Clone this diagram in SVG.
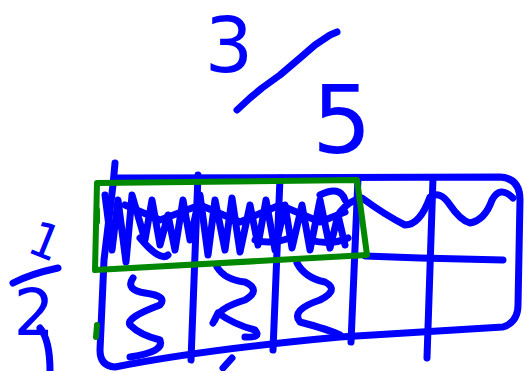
<svg xmlns="http://www.w3.org/2000/svg" width="528" height="371" viewBox="0 0 528 371">
<style>
.b{fill:none;stroke:#0000ff;stroke-width:7;stroke-linecap:round;stroke-linejoin:round}
.g{fill:none;stroke:#008800;stroke-width:6;stroke-linecap:round;stroke-linejoin:round}
.d{font-family:"DejaVu Sans","Liberation Sans",sans-serif;fill:#0000ff;text-anchor:middle}
</style>
<rect width="528" height="371" fill="#ffffff"/>
<g id="fraction-top">
<text class="d" x="229" y="72" font-size="76">3</text>
<path class="b" d="M237,110 L250,98 L262,88 L280,75 L300,58 L315,45 L330,35 L337,32"/>
<text class="d" x="342" y="153" font-size="94">5</text>
</g>
<g id="fraction-left">
<text class="d" x="46" y="258" font-size="48" transform="rotate(22 46 240)">1</text>
<path class="b" d="M13,283 Q30,274 58,268"/>
<text class="d" x="34" y="335" font-size="64">2</text>
<path class="b" d="M40,328 Q50,340 50,371"/>
</g>
<g id="grid">
<path class="b" d="M115,163 L113,185 L104,260 L100,350 Q100,366 115,367 Q200,350 340,337 L503,327 Q518,322 518,305 L520,200 Q520,178 500,177 L117,178"/>
<path class="b" d="M198,175 L191,360"/>
<path class="b" d="M280,178 L273,350"/>
<path class="b" d="M358,178 L351,342"/>
<path class="b" d="M433,178 L427,358"/>
<path class="b" d="M365,256 L420,258 L503,260"/>
<path class="b" d="M223,368 L232,358"/>
</g>
<g id="scribble">
<path class="b" d="M105,195 L112,250 L118,200 L126,262 L132,195 L145,240 L152,200 L160,245 L168,215 L175,250 L183,200 L190,240 L200,195 L208,255 L215,200 L225,250 L232,198 L240,252 L250,205 L258,245 L266,200 L275,250 L285,205 L292,248 L302,205 L310,250 L320,200 L330,248 L338,215 L345,245"/>
<path class="b" d="M125,205 L160,220 L200,205 L240,222 L280,205 L320,222 L345,212"/>
<path class="b" d="M140,238 Q160,262 168,255 M255,240 Q270,245 290,238 M310,240 Q330,246 348,238 M320,195 Q340,185 345,200"/>
<path class="b" d="M340,212 Q350,200 362,198 Q385,215 405,225 Q420,225 430,197 Q440,190 450,205 Q460,220 470,223 Q485,220 492,200 Q500,185 513,198"/>
</g>
<g id="squiggles">
<path class="b" d="M133,278 Q125,290 145,293 Q168,296 160,305 Q125,318 130,325 Q140,335 160,340 Q165,352 130,357"/>
<path class="b" d="M217,267 Q225,280 245,282 Q262,290 245,300 Q218,308 215,320 M213,323 L218,313 Q235,325 255,330 Q262,338 245,337"/>
<path class="b" d="M297,263 Q305,278 325,282 Q340,290 320,300 Q290,310 300,322 Q330,330 340,335"/>
</g>
<g id="highlight">
<path class="g" d="M97,183 L357,180 L367,255 L95,270 Z"/>
<path class="g" d="M97,210 L97,222"/>
<path class="g" d="M97,325 L96,337"/>
</g>
</svg>
